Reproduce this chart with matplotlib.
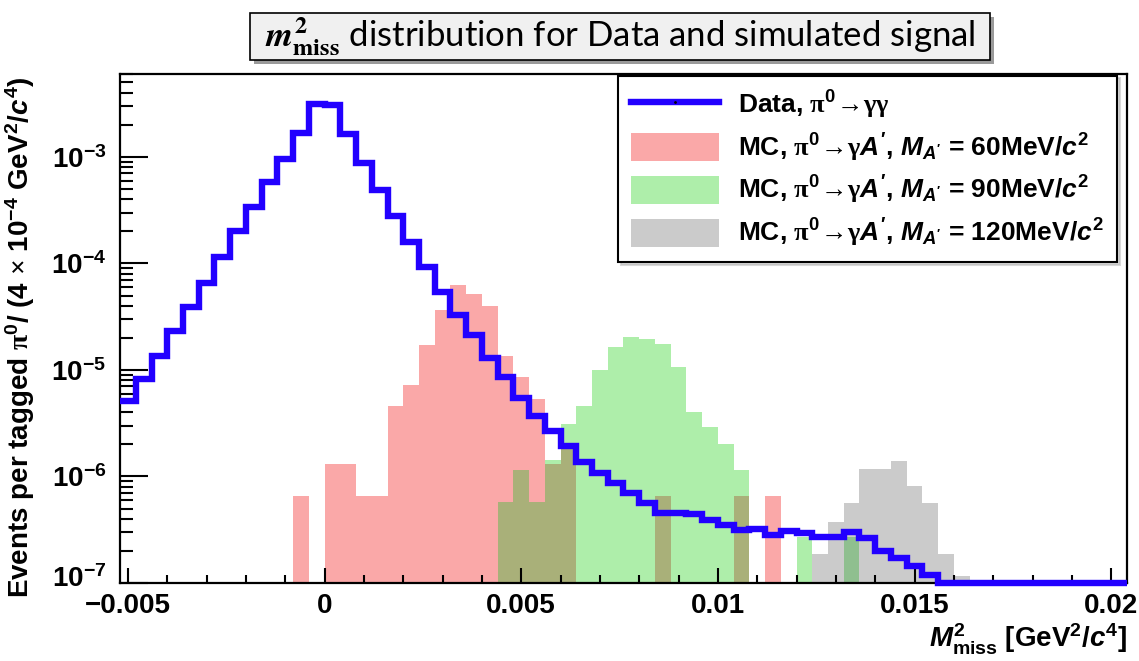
import numpy as np
import matplotlib
matplotlib.use('Agg')
import matplotlib.pyplot as plt
from matplotlib.lines import Line2D
from matplotlib.patches import Patch, Rectangle
from matplotlib.transforms import ScaledTranslation
from matplotlib.ticker import FixedLocator, FixedFormatter, LogLocator, NullFormatter, MultipleLocator

plt.rcParams['font.family'] = ['Liberation Sans', 'DejaVu Sans']
plt.rcParams['font.weight'] = 'bold'
plt.rcParams['mathtext.fontset'] = 'custom'
plt.rcParams['mathtext.rm'] = 'Liberation Sans:bold'
plt.rcParams['mathtext.it'] = 'Liberation Sans:italic:bold'
plt.rcParams['mathtext.bf'] = 'Liberation Sans:bold'
plt.rcParams['mathtext.sf'] = 'Liberation Serif'

# binning: 64 bins of 4e-4 from -0.0052
bin_lo, bin_w, n_bins = -0.0052, 0.0004, 64
edges = bin_lo + bin_w * np.arange(n_bins + 1)

# data, pi0 -> gamma gamma (starts at -0.0052)
data_vals = [5.1e-6, 8.3e-6, 1.35e-5, 2.3e-5, 3.9e-5, 6.6e-5, 1.16e-4, 2.0e-4,
             3.4e-4, 5.8e-4, 9.5e-4, 1.69e-3, 3.15e-3, 3.1e-3, 1.63e-3, 8.7e-4,
             4.85e-4, 2.77e-4, 1.58e-4, 9.2e-5, 5.4e-5, 3.25e-5, 2.14e-5, 1.3e-5,
             8.5e-6, 5.5e-6, 3.7e-6, 2.7e-6, 1.94e-6, 1.36e-6, 1.07e-6, 8.6e-7,
             7.0e-7, 5.65e-7, 4.5e-7, 4.5e-7, 4.4e-7, 3.9e-7, 3.5e-7, 3.14e-7,
             3.2e-7, 2.8e-7, 3.1e-7, 2.92e-7, 2.7e-7, 2.69e-7, 2.98e-7, 2.64e-7,
             2.0e-7, 1.73e-7, 1.45e-7, 1.2e-7]
data_start = -0.0052

# MC, M_A' = 60 MeV (starts at -0.0008)
mc60_vals = [6.5e-7, 0, 1.32e-6, 1.32e-6, 6.5e-7, 6.5e-7, 4.6e-6, 7.3e-6,
             1.72e-5, 3.68e-5, 6.3e-5, 5.2e-5, 4.0e-5, 1.34e-5, 8.6e-6, 5.3e-6,
             1.32e-6, 1.8e-6, 0, 0, 0, 0, 0, 6.5e-7, 0, 0, 0, 0, 6.5e-7, 0, 6.5e-7]
mc60_start = -0.0008

# MC, M_A' = 90 MeV (starts at 0.0044)
mc90_vals = [5.7e-7, 1.16e-6, 5.7e-7, 1.42e-6, 3.14e-6, 4.57e-6, 1.01e-5, 1.64e-5,
             2.06e-5, 1.95e-5, 1.76e-5, 1.06e-5, 4.04e-6, 2.9e-6, 2.03e-6, 1.15e-6,
             0, 0, 0, 2.73e-7, 0, 0, 2.73e-7]
mc90_start = 0.0044

# MC, M_A' = 120 MeV (starts at 0.0124)
mc120_vals = [1.86e-7, 3.7e-7, 5.6e-7, 1.18e-6, 1.18e-6, 1.4e-6, 8.2e-7, 5.6e-7,
              1.86e-7, 1.16e-7]
mc120_start = 0.0124

arrow = r"\!\mathsf{\rightarrow}\!"
labels = [r"Data, $\mathsf{\pi}^{0}" + arrow + r"\mathsf{\gamma\gamma}$",
          r"MC, $\mathsf{\pi}^{0}" + arrow + r"\mathsf{\gamma}A'$, $M_{A'}$ = 60MeV/$c^{2}$",
          r"MC, $\mathsf{\pi}^{0}" + arrow + r"\mathsf{\gamma}A'$, $M_{A'}$ = 90MeV/$c^{2}$",
          r"MC, $\mathsf{\pi}^{0}" + arrow + r"\mathsf{\gamma}A'$, $M_{A'}$ = 120MeV/$c^{2}$"]


def full(start, vals):
    arr = np.zeros(n_bins)
    i = int(round((start - bin_lo) / bin_w))
    arr[i:i + len(vals)] = vals
    return arr


data = full(data_start, data_vals)
mc60 = full(mc60_start, mc60_vals)
mc90 = full(mc90_start, mc90_vals)
mc120 = full(mc120_start, mc120_vals)

ymin, ymax = 1e-7, 6e-3
tiny = 1e-10

c_blue = '#2200ff'
c_red = '#faa8a8'
c_green = '#aeeeaa'
c_gray = '#cbcbcb'
c_olive = '#a9b079'
c_gg = '#8fbf8f'

fig = plt.figure(figsize=(11.39, 6.61), dpi=100)
ax = fig.add_axes([0.1054, 0.118, 0.884, 0.770])


def fillhist(vals, color, z):
    v = np.where(vals > 0, vals, tiny)
    ax.stairs(v, edges, fill=True, color=color, baseline=tiny, zorder=z, lw=0)


fillhist(mc60, c_red, 1)
fillhist(mc120, c_gray, 1.1)
fillhist(mc90, c_green, 1.2)
fillhist(np.minimum(mc60, mc90), c_olive, 1.3)
fillhist(np.minimum(mc120, mc90), c_gg, 1.4)

ax.stairs(np.where(data > 0, data, ymin), edges, baseline=None, color=c_blue,
          lw=4.6, zorder=3, clip_on=False)

ax.set_yscale('log')
ax.set_xlim(edges[0], edges[-1])
ax.set_ylim(ymin, ymax)

for s in ax.spines.values():
    s.set_linewidth(1.6)

ax.xaxis.set_major_locator(FixedLocator([-0.005, 0, 0.005, 0.01, 0.015, 0.02]))
ax.xaxis.set_major_formatter(FixedFormatter(['\u22120.005', '0', '0.005', '0.01', '0.015', '0.02']))
ax.xaxis.set_minor_locator(MultipleLocator(0.001))
ax.yaxis.set_major_locator(FixedLocator([1e-7, 1e-6, 1e-5, 1e-4, 1e-3]))
ax.yaxis.set_major_formatter(FixedFormatter([r'$10^{-7}$', r'$10^{-6}$', r'$10^{-5}$',
                                             r'$10^{-4}$', r'$10^{-3}$']))
ax.yaxis.set_minor_locator(LogLocator(base=10, subs=np.arange(2, 10), numticks=20))
ax.yaxis.set_minor_formatter(NullFormatter())

ax.tick_params(axis='both', which='both', direction='in', top=False, right=False,
               width=1.5, labelsize=20)
ax.tick_params(axis='y', which='major', length=20, pad=10)
ax.tick_params(axis='y', which='minor', length=9.5)
ax.tick_params(axis='x', which='major', length=11, pad=7)
ax.tick_params(axis='x', which='minor', length=5.5)
# nudge the lowest y label up a few pixels so it clears the first x label
lbl = ax.get_yticklabels()[0]
lbl.set_transform(lbl.get_transform() + ScaledTranslation(0, 5 / 72, fig.dpi_scale_trans))

handles = [Line2D([], [], color=c_blue, lw=4.6, marker='.', ms=2, mfc='k', mec='k'),
           Patch(facecolor=c_red, edgecolor='none'),
           Patch(facecolor=c_green, edgecolor='none'),
           Patch(facecolor=c_gray, edgecolor='none')]
leg = ax.legend(handles, labels, loc='upper right', bbox_to_anchor=(0.99, 0.997),
                borderaxespad=0, fontsize=19, handlelength=3.33, handleheight=1.25,
                handletextpad=0.7, labelspacing=0.4, borderpad=0.5,
                fancybox=False, framealpha=1, edgecolor='black',
                shadow={'color': '0.7'})
leg.get_frame().set_linewidth(1.5)
leg.set_zorder(5)

fig.text(0.018, 0.49,
         r"Events per tagged $\mathsf{\pi}^{0}$/ (4 $\mathsf{\times}$ 10$^{-4}$ GeV$^{2}$/$c^{4}$)",
         rotation=90, ha='center', va='center', fontsize=20)
fig.text(0.9895, 0.032, r"$M^{2}_{\rm miss}$ [GeV$^{2}$/$c^{4}$]",
         ha='right', va='center', fontsize=20)

# title box with shadow
W, H = 1139, 661
bx0, bx1, by0, by1 = 250, 990, 13, 60
fig.patches.append(Rectangle((bx0 / W + 4 / W, 1 - by1 / H - 4 / H), (bx1 - bx0) / W, (by1 - by0) / H,
                             transform=fig.transFigure, fc='#9a9a9a', ec='none', zorder=0))
fig.patches.append(Rectangle((bx0 / W, 1 - by1 / H), (bx1 - bx0) / W, (by1 - by0) / H,
                             transform=fig.transFigure, fc='#f0f0f0', ec='black', lw=1.2, zorder=1))
fig.text((bx0 + bx1) / 2 / W, 1 - (by0 + by1) / 2 / H,
         r"$m^{2}_{\mathrm{miss}}$ distribution for Data and simulated signal",
         ha='center', va='center', fontsize=25, fontweight='normal', family='Lato',
         math_fontfamily='stix')

fig.savefig('out.png', dpi=100)
